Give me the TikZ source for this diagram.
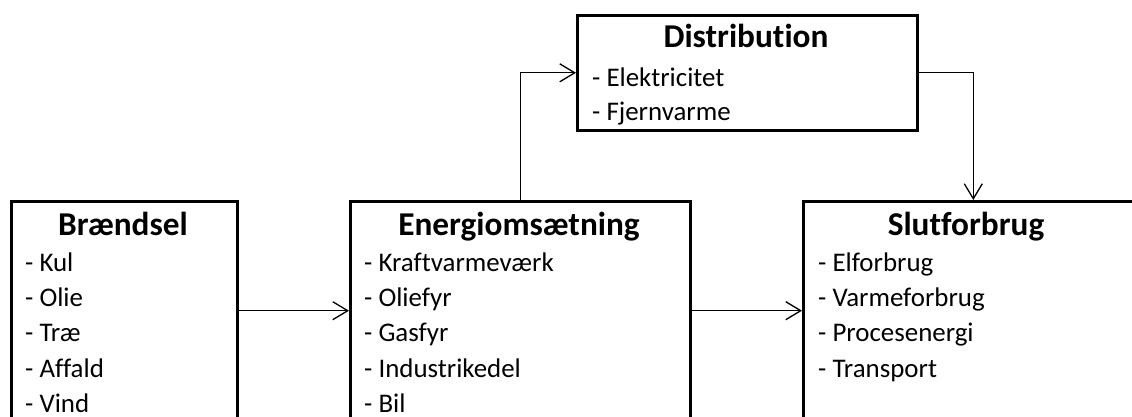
\documentclass[tikz,border=0pt]{standalone}
\usepackage{fontspec}
\setmainfont{Carlito}[RawFeature=-liga]
\usetikzlibrary{arrows.meta}
\begin{document}
\begin{tikzpicture}[x=1pt,y=1pt,
  box/.style={draw,line width=2.6pt,anchor=north west,inner sep=0pt},
  ttl/.style={anchor=base,inner sep=0pt,font=\fontsize{33.3}{34}\selectfont\bfseries},
  itm/.style={anchor=base west,inner sep=0pt,font=\fontsize{26.9}{28}\selectfont},
  arr/.style={line width=1.3pt,-{Straight Barb[length=15pt,width=18pt,line width=1.3pt]}}]
\useasboundingbox (0,0) rectangle (1132,416);
\clip (0,0) rectangle (1132,416);
% boxes
\node[box,minimum width=226pt,minimum height=260pt] (b) at (10,216) {};
\node[box,minimum width=340pt,minimum height=260pt] (e) at (349,216) {};
\node[box,minimum width=340pt,minimum height=260pt] (s) at (802,216) {};
\node[box,minimum width=340pt,minimum height=115pt] (d) at (576,402) {};
% titles
\node[ttl] (bt) at (123,181) {Brændsel};
\node[ttl] (et) at (519,181) {Energiomsætning};
\node[ttl] (st) at (966,181) {Slutforbrug};
\node[ttl] (dt) at (746,368) {Distribution};
% items
\foreach \t [count=\i] in {Kul,Olie,Træ,Affald,Vind}
  \node[itm] (b\i) at (25,{144.5-35.2*(\i-1)}) {- \t};
\foreach \t [count=\i] in {Kraftvarmeværk,Oliefyr,Gasfyr,Industrikedel,Bil}
  \node[itm] (e\i) at (364,{144.5-35.2*(\i-1)}) {- \t};
\foreach \t [count=\i] in {Elforbrug,Varmeforbrug,Procesenergi,Transport}
  \node[itm] (s\i) at (818,{144.5-35.2*(\i-1)}) {- \t};
\foreach \t [count=\i] in {Elektricitet,Fjernvarme}
  \node[itm] (d\i) at (592,{330-34*(\i-1)}) {- \t};
% connectors
\draw[arr] ([yshift=-110.7]b.north east) -- ([yshift=-110.7]e.north west);
\draw[arr] ([yshift=-110.7]e.north east) -- ([yshift=-110.7]s.north west);
\draw[arr] (e.north) |- (d.west);
\draw[arr] (d.east) -| (s.north);
\end{tikzpicture}
\end{document}
